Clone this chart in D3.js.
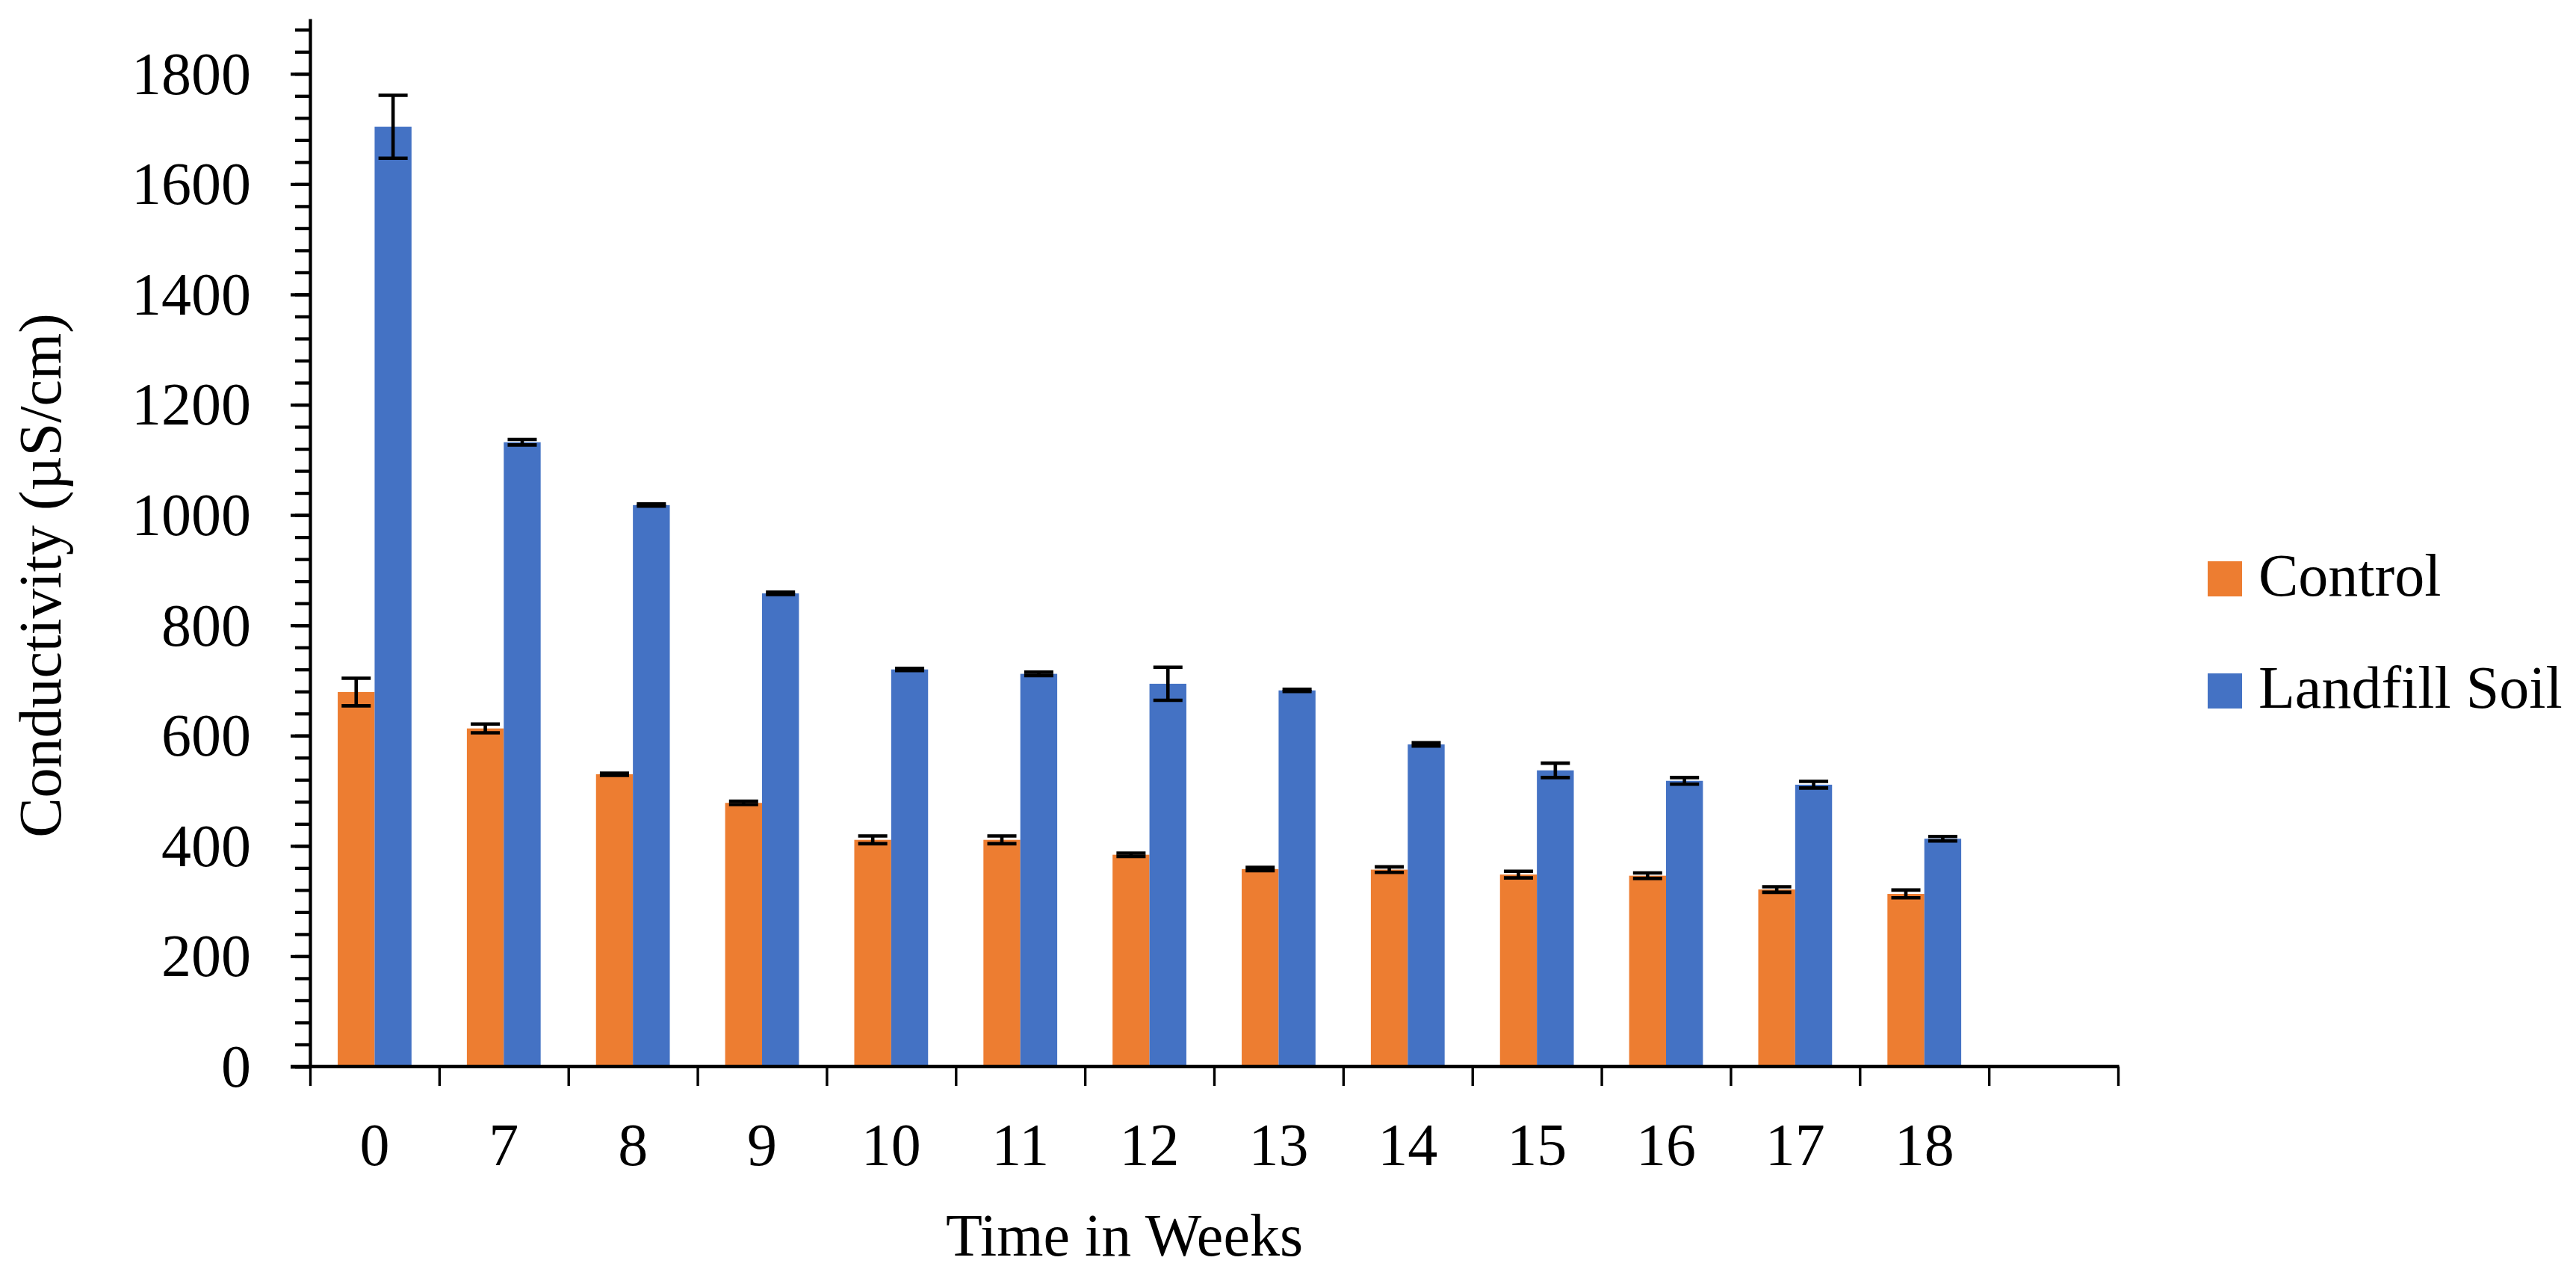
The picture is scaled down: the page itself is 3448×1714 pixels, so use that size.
<!DOCTYPE html>
<html>
<head>
<meta charset="utf-8">
<script src="https://cdn.jsdelivr.net/npm/d3@7"></script>
<style>
  body { margin: 0; background: #fff; }
  svg { display: block; }
  text { font-family: "Liberation Serif", "DejaVu Serif", serif; fill: #000; }
</style>
</head>
<body>
<div id="container"></div>
<script>
"use strict";

const weeks = ["0", "7", "8", "9", "10", "11", "12", "13", "14", "15", "16", "17", "18"];
const seriesNames = ["Control", "Landfill Soil"];
const control = [679, 613, 530, 478, 411, 411, 384, 358, 357, 348, 346, 321, 313];
const controlErr = [25, 8, 2, 3, 7, 7, 3, 3, 5, 6, 5, 5, 7];
const landfill = [1704, 1132, 1018, 858, 720, 712, 694, 682, 584, 537, 518, 511, 413];
const landfillErr = [57, 5, 2, 2, 2, 3, 30, 2, 3, 13, 6, 6, 4];
const yMajorTicks = [0, 200, 400, 600, 800, 1000, 1200, 1400, 1600, 1800];

const width = 3448;
const height = 1714;
const plotLeft = 415;
const plotRight = 2835;
const plotTop = 25;
const plotBottom = 1427;
const fontSize = 80;

const colors = ["#ED7D31", "#4472C4"];

const svg = d3.select("#container")
  .append("svg")
  .attr("width", width)
  .attr("height", height);

// one empty category at the end, like the original
const x = d3.scaleBand()
  .domain([...weeks, ""])
  .range([plotLeft, plotRight])
  .padding(0);

const xInner = d3.scaleBand()
  .domain(seriesNames)
  .range([0, x.bandwidth()])
  .paddingInner(0)
  .paddingOuter(0.75);

const y = d3.scaleLinear()
  .domain([0, 1900])
  .range([plotBottom, plotTop]);

const rows = weeks.map((w, i) => ({
  week: w,
  values: [
    { name: seriesNames[0], value: control[i], err: controlErr[i] },
    { name: seriesNames[1], value: landfill[i], err: landfillErr[i] },
  ],
}));

// bars
const groups = svg.append("g")
  .selectAll("g")
  .data(rows)
  .enter()
  .append("g")
  .attr("transform", d => `translate(${x(d.week)},0)`);

groups.selectAll("rect")
  .data(d => d.values)
  .enter()
  .append("rect")
  .attr("x", d => xInner(d.name))
  .attr("y", d => y(d.value))
  .attr("width", xInner.bandwidth())
  .attr("height", d => y(0) - y(d.value))
  .attr("fill", (d, i) => colors[i]);

// error bars
const capHalf = 19.5;
const errG = groups.selectAll("g.err")
  .data(d => d.values)
  .enter()
  .append("g")
  .attr("class", "err")
  .attr("stroke", "#000")
  .attr("stroke-width", 4.6);

const cx = d => xInner(d.name) + xInner.bandwidth() / 2;

errG.append("line")
  .attr("x1", cx).attr("x2", cx)
  .attr("y1", d => y(d.value + d.err))
  .attr("y2", d => y(d.value - d.err));

errG.append("line")
  .attr("x1", d => cx(d) - capHalf).attr("x2", d => cx(d) + capHalf)
  .attr("y1", d => y(d.value + d.err)).attr("y2", d => y(d.value + d.err));

errG.append("line")
  .attr("x1", d => cx(d) - capHalf).attr("x2", d => cx(d) + capHalf)
  .attr("y1", d => y(d.value - d.err)).attr("y2", d => y(d.value - d.err));

// y axis: minor ticks every 40, major every 200
const minorAxis = d3.axisLeft(y)
  .tickValues(d3.range(0, 1900, 40))
  .tickSize(20)
  .tickSizeOuter(0)
  .tickFormat("");

svg.append("g")
  .attr("transform", `translate(${plotLeft},0)`)
  .call(minorAxis)
  .call(g => g.selectAll(".tick line").attr("stroke", "#000").attr("stroke-width", 4.3))
  .call(g => g.select(".domain").attr("stroke", "#000").attr("stroke-width", 4.3));

const majorAxis = d3.axisLeft(y)
  .tickValues(yMajorTicks)
  .tickSize(26)
  .tickSizeOuter(0)
  .tickPadding(53)
  .tickFormat(d3.format("d"));

svg.append("g")
  .attr("transform", `translate(${plotLeft},0)`)
  .call(majorAxis)
  .call(g => g.select(".domain").remove())
  .call(g => g.selectAll(".tick line").attr("stroke", "#000").attr("stroke-width", 4.3))
  .call(g => g.selectAll(".tick text")
    .attr("font-family", "Liberation Serif")
    .attr("font-size", fontSize)
    .attr("dy", "0.33em"));

// x axis: ticks on category boundaries
const xEdges = d3.scaleLinear()
  .domain([0, x.domain().length])
  .range([plotLeft, plotRight]);

svg.append("g")
  .attr("transform", `translate(0,${plotBottom})`)
  .call(d3.axisBottom(xEdges).tickValues(d3.range(0, x.domain().length + 1)).tickSize(26).tickSizeOuter(0).tickFormat(""))
  .call(g => g.select(".domain").remove())
  .call(g => g.selectAll(".tick line").attr("stroke", "#000").attr("stroke-width", 3.4));

svg.append("line")
  .attr("x1", plotLeft - 26)
  .attr("x2", plotRight + 1.5)
  .attr("y1", plotBottom)
  .attr("y2", plotBottom)
  .attr("stroke", "#000")
  .attr("stroke-width", 4.6);

svg.append("g")
  .attr("transform", `translate(0,${plotBottom})`)
  .call(d3.axisBottom(x).tickValues(weeks).tickSize(0).tickPadding(75))
  .call(g => g.select(".domain").remove())
  .call(g => g.selectAll(".tick text")
    .attr("font-family", "Liberation Serif")
    .attr("font-size", fontSize));

// axis titles
svg.append("text")
  .attr("transform", "translate(81,770) rotate(-90)")
  .attr("text-anchor", "middle")
  .attr("font-size", fontSize)
  .text("Conductivity (µS/cm)");

svg.append("text")
  .attr("x", 1505)
  .attr("y", 1680)
  .attr("text-anchor", "middle")
  .attr("font-size", fontSize)
  .text("Time in Weeks");

// legend
const legend = svg.append("g")
  .selectAll("g")
  .data(seriesNames)
  .enter()
  .append("g")
  .attr("transform", (d, i) => `translate(2955,${751 + i * 150})`);

legend.append("rect")
  .attr("width", 46)
  .attr("height", 47)
  .attr("fill", (d, i) => colors[i]);

legend.append("text")
  .attr("x", 68)
  .attr("y", 46)
  .attr("font-size", fontSize)
  .text(d => d);
</script>
</body>
</html>
